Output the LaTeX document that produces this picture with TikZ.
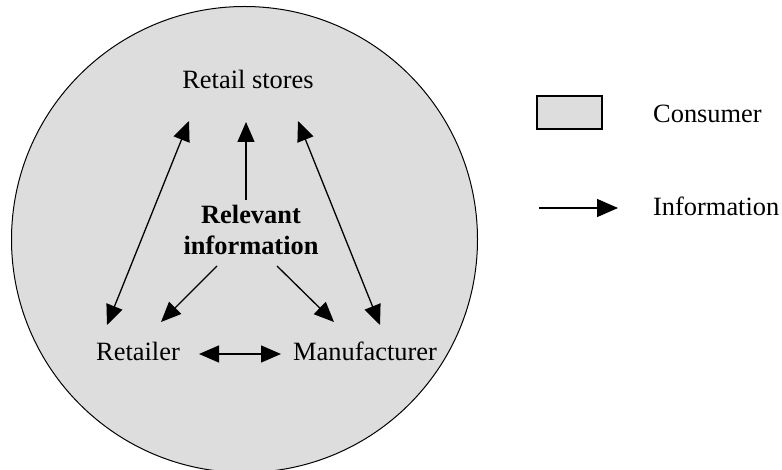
\documentclass[tikz,border=0pt]{standalone}
\usepackage{fontspec}
\setmainfont{Liberation Serif}
\usetikzlibrary{arrows.meta}
\definecolor{consumergray}{HTML}{DDDDDD}
\begin{document}
\begin{tikzpicture}[x=1pt,y=-1pt,
  lbl/.style={inner sep=0pt,anchor=base,font=\fontsize{26.4}{31}\selectfont},
  tip/.tip={Triangle[length=20pt,width=17pt]},
  infoline/.style={line width=1.3pt,-tip},
  infoboth/.style={line width=1.3pt,tip-tip}]
  \useasboundingbox (0,0) rectangle (782,470);

  % consumer circle
  \draw[line width=1pt,fill=consumergray] (244.5,239.5) circle[radius=233];

  % actors
  \node[lbl] (rs)  at (248,89)  {Retail stores};
  \node[lbl,font=\fontsize{26.4}{31}\selectfont\bfseries,align=center] (ri) at (251,255) {Relevant\\information};
  \node[lbl] (ret) at (138,361) {Retailer};
  \node[lbl] (man) at (365,361) {Manufacturer};

  % connector end points around the labels
  \coordinate (rsL) at (189,121);
  \coordinate (rsM) at (246,122);
  \coordinate (rsR) at (298,121);
  \coordinate (riT) at (246,200);
  \coordinate (riL) at (217,266);
  \coordinate (riR) at (277,266);
  \coordinate (retT) at (107,325);
  \coordinate (retD) at (161,322);
  \coordinate (retE) at (199,354);
  \coordinate (manT) at (380,325);
  \coordinate (manD) at (334,322);
  \coordinate (manW) at (281,354);

  \draw[infoboth] (rsL) -- (retT);
  \draw[infoboth] (rsR) -- (manT);
  \draw[infoline] (riT) -- (rsM);
  \draw[infoline] (riL) -- (retD);
  \draw[infoline] (riR) -- (manD);
  \draw[infoboth] (retE) -- (manW);

  % legend
  \node[draw,line width=1.2pt,fill=consumergray,minimum width=65pt,minimum height=33pt,inner sep=0pt] (lgbox) at (569.5,112.5) {};
  \node[lbl,anchor=base west] (lgc) at (653,123) {Consumer};
  \coordinate (lga) at (539,208);
  \coordinate (lgb) at (618,208);
  \draw[line width=1.3pt,-{Triangle[length=21pt,width=18pt]}] (lga) -- (lgb);
  \node[lbl,anchor=base west] (lgi) at (653,216) {Information};
\end{tikzpicture}
\end{document}
